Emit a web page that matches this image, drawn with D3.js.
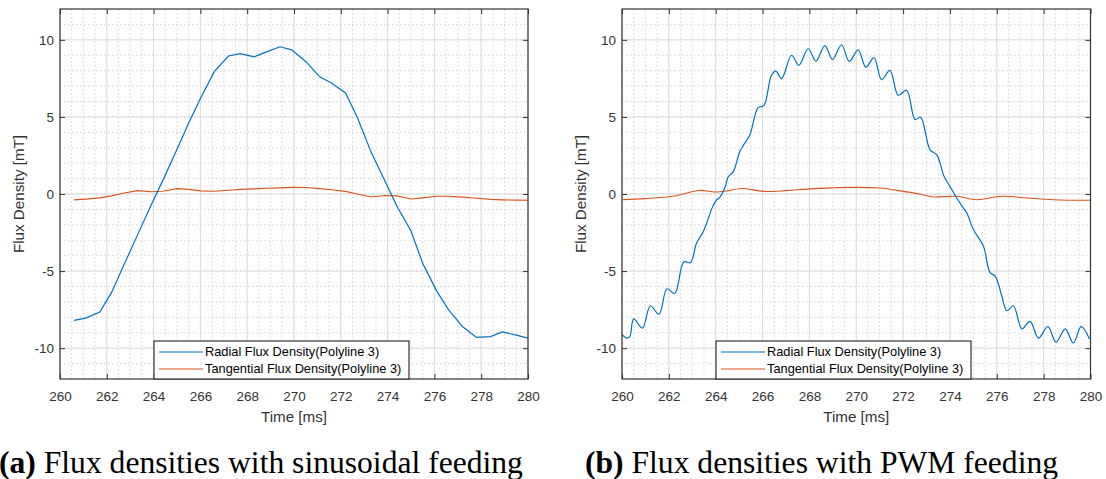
<!DOCTYPE html>
<head>
  <meta charset="utf-8">
  <script src="https://d3js.org/d3.v7.min.js"></script>
  <style type="text/css">
    body { margin: 0; background: #fff; }
    svg { display: block; }
    .tick text { font-family: "Liberation Sans", Arial, sans-serif; font-size: 13.5px; fill: #333; }
    .tick line { stroke: #333; }
    .caption { font-family: "Liberation Serif", "Times New Roman", serif; font-size: 31.6px; fill: #000; }
  </style>
</head>

<body>
  <script type="text/javascript">
    // ---- data ----
    var xTicks = [260, 262, 264, 266, 268, 270, 272, 274, 276, 278, 280];
    var yTicks = [-10, -5, 0, 5, 10];
    var legendLabels = ["Radial Flux Density(Polyline 3)", "Tangential Flux Density(Polyline 3)"];
    var captions = [["(a)", " Flux densities with sinusoidal feeding"], ["(b)", " Flux densities with PWM feeding"]];

    // (a) sinusoidal feeding
    var sinTime = [260.6, 261.1, 261.7, 262.2, 262.7, 263.3, 263.9, 264.4, 265.0, 265.5, 266.0, 266.6,
                   267.2, 267.7, 268.3, 268.8, 269.4, 269.9, 270.5, 271.1, 271.6, 272.2, 272.7, 273.3,
                   273.9, 274.4, 275.0, 275.5, 276.1, 276.6, 277.2, 277.8, 278.4, 278.9, 279.5, 280.0];
    var sinRadial = [-8.2, -8.05, -7.65, -6.4, -4.7, -2.7, -0.7, 0.9, 2.9, 4.6, 6.2, 7.95,
                     8.95, 9.1, 8.9, 9.2, 9.55, 9.35, 8.6, 7.6, 7.2, 6.55, 5.0, 2.7,
                     0.8, -0.8, -2.4, -4.5, -6.3, -7.5, -8.6, -9.3, -9.25, -8.95, -9.15, -9.35];
    var sinTangential = [-0.38, -0.33, -0.25, -0.12, 0.05, 0.22, 0.15, 0.18, 0.35, 0.3, 0.2, 0.18,
                         0.24, 0.3, 0.33, 0.37, 0.4, 0.43, 0.42, 0.35, 0.28, 0.17, 0.0, -0.19,
                         -0.1, -0.12, -0.32, -0.25, -0.15, -0.15, -0.2, -0.28, -0.35, -0.38, -0.4, -0.41];

    // (b) PWM feeding
    var pwmRadialTime = [260.0, 260.2, 260.33, 260.5, 260.87, 261.21, 261.58, 261.92, 262.25, 262.64, 262.92,
                         263.18, 263.45, 263.6, 263.85, 264.03, 264.18, 264.39, 264.53, 264.75, 265.03, 265.2,
                         265.46, 265.81, 266.06, 266.38, 266.57, 266.81, 267.24, 267.55, 267.95, 268.28, 268.66,
                         268.99, 269.37, 269.7, 270.08, 270.41, 270.76, 271.08, 271.44, 271.79, 272.15, 272.51,
                         272.75, 273.15, 273.44, 273.75, 274.0, 274.29, 274.57, 274.72, 275.0, 275.43, 275.71,
                         275.93, 276.21, 276.43, 276.71, 277.07, 277.42, 277.78, 278.18, 278.53, 278.92, 279.27,
                         279.6, 279.96];
    var pwmRadial = [-9.1, -9.35, -9.25, -8.1, -8.7, -7.25, -7.8, -6.15, -6.45, -4.4, -4.45,
                     -3.2, -2.5, -1.95, -0.9, -0.4, -0.2, 0.4, 1.1, 1.45, 2.75, 3.2,
                     3.85, 5.6, 5.75, 7.7, 7.97, 7.48, 9.0, 8.35, 9.42, 8.62, 9.63,
                     8.72, 9.68, 8.6, 9.35, 8.23, 8.84, 7.42, 8.02, 6.41, 6.73, 4.84,
                     4.97, 2.86, 2.54, 1.14, 0.49, -0.26, -0.9, -1.23, -2.3, -3.38, -5.1,
                     -5.32, -6.6, -7.57, -7.25, -8.75, -8.26, -9.35, -8.6, -9.61, -8.75, -9.66,
                     -8.6, -9.4];
    var pwmTangTime = [260.0, 261.0, 262.3, 263.3, 263.96, 264.5, 265.1, 266.03, 267.0, 268.0, 269.0,
                       269.87, 271.0, 272.0, 272.7, 273.28, 274.29, 275.14, 276.2, 277.28, 278.42, 280.0];
    var pwmTangential = [-0.37, -0.3, -0.11, 0.23, 0.13, 0.2, 0.36, 0.17, 0.22, 0.33, 0.4,
                         0.43, 0.39, 0.17, 0.0, -0.19, -0.15, -0.37, -0.15, -0.26, -0.37, -0.41];

    var blue = "#0072BD", orange = "#D95319";

    var W = 1106, H = 479;
    var svg = d3.select("body").append("svg")
      .attr("width", W)
      .attr("height", H);

    function zip(t, v) { return t.map(function(d, i) { return {t: d, v: v[i]}; }); }
    function fmt(d) { return d < 0 ? "-" + Math.abs(d) : String(d); }

    function drawPanel(id, left, right, radial, tangential, curve) {
      var top = 9, bottom = 379;
      var x = d3.scaleLinear().domain([260, 280]).range([left, right]);
      var y = d3.scaleLinear().domain([-12, 12]).range([bottom, top]);
      var g = svg.append("g");

      g.append("clipPath").attr("id", "clip" + id)
        .append("rect").attr("x", left).attr("y", top).attr("width", right - left).attr("height", bottom - top);

      // minor grid
      g.append("g").selectAll("line").data(d3.range(260.5, 280, 0.5))
        .enter().append("line")
        .attr("x1", function(d) { return x(d); }).attr("x2", function(d) { return x(d); })
        .attr("y1", top).attr("y2", bottom)
        .attr("stroke", "#d3d3d3").attr("stroke-dasharray", "1.5,2.5");
      g.append("g").selectAll("line").data(d3.range(-11, 12, 1))
        .enter().append("line")
        .attr("y1", function(d) { return y(d); }).attr("y2", function(d) { return y(d); })
        .attr("x1", left).attr("x2", right)
        .attr("stroke", "#d3d3d3").attr("stroke-dasharray", "1.5,2.5");
      // major grid
      g.append("g").selectAll("line").data(xTicks)
        .enter().append("line")
        .attr("x1", function(d) { return x(d); }).attr("x2", function(d) { return x(d); })
        .attr("y1", top).attr("y2", bottom)
        .attr("stroke", "#dcdcdc");
      g.append("g").selectAll("line").data(yTicks)
        .enter().append("line")
        .attr("y1", function(d) { return y(d); }).attr("y2", function(d) { return y(d); })
        .attr("x1", left).attr("x2", right)
        .attr("stroke", "#dcdcdc");

      // lines
      var line = d3.line()
        .x(function(d) { return x(d.t); })
        .y(function(d) { return y(d.v); })
        .curve(curve);
      var plot = g.append("g").attr("clip-path", "url(#clip" + id + ")");
      plot.append("path").datum(tangential)
        .attr("fill", "none").attr("stroke", orange).attr("stroke-width", 1.1)
        .attr("d", line);
      plot.append("path").datum(radial)
        .attr("fill", "none").attr("stroke", blue).attr("stroke-width", 1.2)
        .attr("d", line);

      // axes, ticks inside
      g.append("g").attr("transform", "translate(0," + bottom + ")")
        .call(d3.axisBottom(x).tickValues(xTicks).tickSize(-5).tickPadding(12.5).tickFormat(fmt))
        .call(function(a) { a.select(".domain").remove(); });
      g.append("g").attr("transform", "translate(0," + top + ")")
        .call(d3.axisTop(x).tickValues(xTicks).tickSize(-5).tickFormat(""))
        .call(function(a) { a.select(".domain").remove(); });
      g.append("g").attr("transform", "translate(" + left + ",0)")
        .call(d3.axisLeft(y).tickValues(yTicks).tickSize(-5).tickPadding(6).tickFormat(fmt))
        .call(function(a) { a.select(".domain").remove(); });
      g.append("g").attr("transform", "translate(" + right + ",0)")
        .call(d3.axisRight(y).tickValues(yTicks).tickSize(-5).tickFormat(""))
        .call(function(a) { a.select(".domain").remove(); });

      g.append("rect")
        .attr("x", left).attr("y", top).attr("width", right - left).attr("height", bottom - top)
        .attr("fill", "none").attr("stroke", "#333").attr("stroke-width", 1.2);

      // axis labels
      g.append("text")
        .attr("x", (left + right) / 2).attr("y", 421.5)
        .attr("text-anchor", "middle")
        .style("font-family", "Liberation Sans, Arial, sans-serif").style("font-size", "15.2px").style("fill", "#333")
        .text("Time [ms]");
      g.append("text")
        .attr("transform", "translate(" + (left - 36) + "," + ((top + bottom) / 2) + ") rotate(-90)")
        .attr("text-anchor", "middle")
        .style("font-family", "Liberation Sans, Arial, sans-serif").style("font-size", "15.2px").style("fill", "#333")
        .text("Flux Density [mT]");

      // legend
      var lx = left + 94, ly = 341, lw = 255, lh = 38;
      var lg = g.append("g");
      lg.append("rect").attr("x", lx).attr("y", ly).attr("width", lw).attr("height", lh)
        .attr("fill", "#fff").attr("stroke", "#333").attr("stroke-width", 1.2);
      [blue, orange].forEach(function(c, i) {
        var yy = ly + 11 + i * 17;
        lg.append("line").attr("x1", lx + 5).attr("x2", lx + 49).attr("y1", yy).attr("y2", yy)
          .attr("stroke", c).attr("stroke-width", 1.2);
        lg.append("text").attr("x", lx + 51).attr("y", yy).attr("dy", "0.35em")
          .style("font-family", "Liberation Sans, Arial, sans-serif").style("font-size", "12.8px").style("fill", "#000")
          .text(legendLabels[i]);
      });
    }

    drawPanel("a", 60, 528, zip(sinTime, sinRadial), zip(sinTime, sinTangential), d3.curveLinear);
    drawPanel("b", 622, 1090.5, zip(pwmRadialTime, pwmRadial), zip(pwmTangTime, pwmTangential), d3.curveCatmullRom);

    // captions
    [[-1, captions[0]], [585, captions[1]]].forEach(function(c) {
      var t = svg.append("text").attr("class", "caption").attr("x", c[0]).attr("y", 473);
      t.append("tspan").style("font-weight", "bold").text(c[1][0]);
      t.append("tspan").text(c[1][1]);
    });
  </script>
</body>
